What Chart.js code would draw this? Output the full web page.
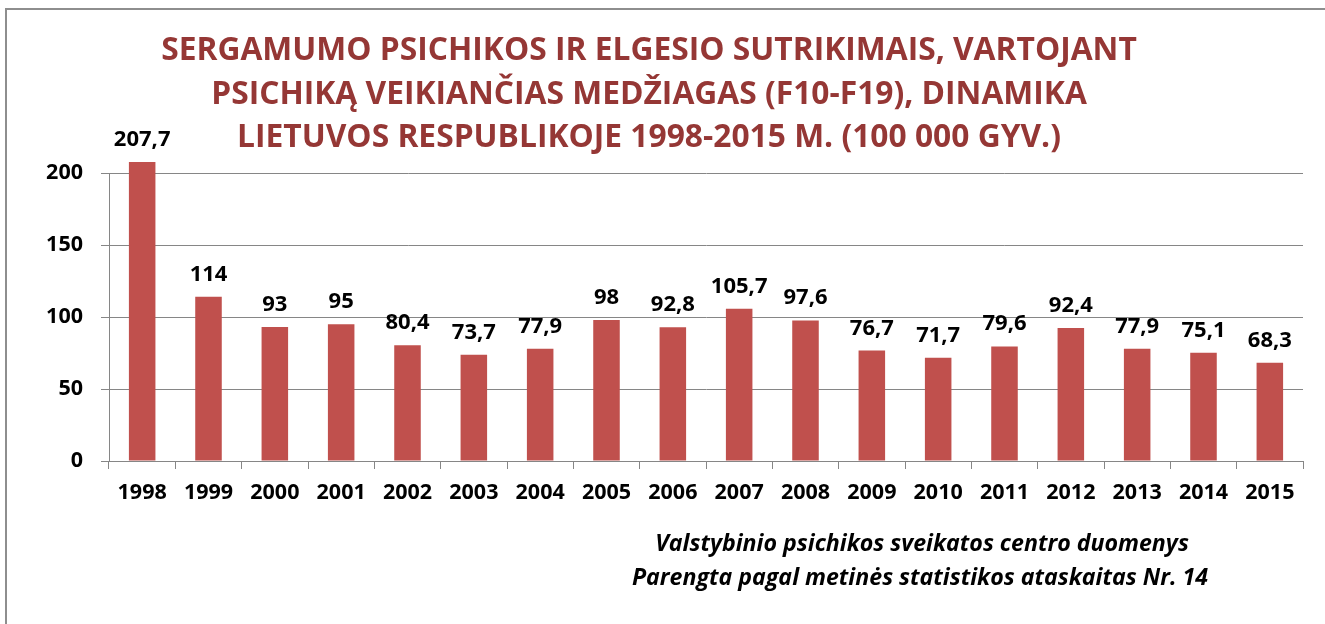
<!DOCTYPE html>
<html>
<head>
<meta charset="utf-8">
<script src="https://cdn.jsdelivr.net/npm/chart.js@4/dist/chart.umd.min.js"></script>
<style>
  html, body { margin: 0; padding: 0; background: #fff; }
  #wrap { width: 1325px; height: 624px; }
</style>
</head>
<body>
<div id="wrap"><canvas id="chart" width="1325" height="624"></canvas></div>
<script>
// data
const years = ['1998','1999','2000','2001','2002','2003','2004','2005','2006','2007','2008','2009','2010','2011','2012','2013','2014','2015'];
const rates = [207.7, 114, 93, 95, 80.4, 73.7, 77.9, 98, 92.8, 105.7, 97.6, 76.7, 71.7, 79.6, 92.4, 77.9, 75.1, 68.3];
const yTicks = [0, 50, 100, 150, 200];

const titleLines = [
    'SERGAMUMO PSICHIKOS IR ELGESIO SUTRIKIMAIS, VARTOJANT',
    'PSICHIKĄ VEIKIANČIAS MEDŽIAGAS (F10-F19), DINAMIKA',
    'LIETUVOS RESPUBLIKOJE 1998-2015 M. (100 000 GYV.)'
];
const sourceLines = [
    'Valstybinio psichikos sveikatos centro duomenys',
    'Parengta pagal metinės statistikos ataskaitas Nr. 14'
];

const FONT = '"Open Sans", "Noto Sans", sans-serif';
const gridGrey = '#868686';

// pick a font size so that a line takes the given width
function fitSize(ctx, text, width, style) {
    ctx.font = style + ' 40px ' + FONT;
    return 40 * width / ctx.measureText(text).width;
}

const decorations = {
    id: 'decorations',
    beforeDraw(c) {
        const ctx = c.ctx;
        ctx.save();
        ctx.fillStyle = '#fff';
        ctx.fillRect(0, 0, c.width, c.height);
        ctx.strokeStyle = '#8e8e8e';
        ctx.lineWidth = 2;
        ctx.beginPath();
        ctx.moveTo(6, 700);
        ctx.lineTo(6, 9);
        ctx.lineTo(1400, 9);
        ctx.stroke();
        ctx.restore();
    },
    afterDraw(c) {
        const ctx = c.ctx;
        ctx.save();
        // title
        const ts = fitSize(ctx, titleLines[0], 976, 'bold');
        ctx.font = 'bold ' + ts + 'px ' + FONT;
        ctx.fillStyle = '#953735';
        ctx.textAlign = 'center';
        ctx.textBaseline = 'middle';
        [51, 95, 138].forEach((y, i) => ctx.fillText(titleLines[i], 649, y));

        // value labels
        const meta = c.getDatasetMeta(0);
        ctx.fillStyle = '#000';
        ctx.font = 'bold 22px ' + FONT;
        ctx.textBaseline = 'alphabetic';
        meta.data.forEach((bar, i) => {
            const txt = String(rates[i]).replace('.', ',');
            ctx.fillText(txt, bar.x, bar.y - 16);
        });

        // source note
        const ss = fitSize(ctx, sourceLines[0], 534, 'italic bold');
        ctx.font = 'italic bold ' + ss + 'px ' + FONT;
        ctx.textBaseline = 'middle';
        ctx.fillText(sourceLines[0], 922, 544);
        ctx.fillText(sourceLines[1], 920, 578);
        ctx.restore();
    }
};

new Chart(document.querySelector('#chart').getContext('2d'), {
    type: 'bar',
    data: {
        labels: years,
        datasets: [{
            data: rates,
            backgroundColor: '#C0504D',
            borderWidth: 0,
            categoryPercentage: 1,
            barPercentage: 0.4,
            clip: false
        }]
    },
    options: {
        responsive: false,
        animation: false,
        layout: { padding: { top: 173, left: 0, right: 22, bottom: 123 } },
        plugins: {
            legend: { display: false },
            tooltip: { enabled: false },
            title: { display: false }
        },
        scales: {
            x: {
                afterFit(scale) { scale.height = 40; },
                grid: { drawOnChartArea: false, drawTicks: true, tickLength: 8, color: gridGrey, offset: true },
                border: { color: gridGrey, width: 1 },
                ticks: { color: '#000', font: { family: FONT, size: 21.5, weight: 'bold' }, padding: 11, maxRotation: 0, autoSkip: false }
            },
            y: {
                min: 0,
                max: 200,
                afterFit(scale) { scale.width = 109; },
                afterBuildTicks(scale) { scale.ticks = yTicks.map(v => ({ value: v })); },
                grid: { color: gridGrey, tickLength: 8, drawTicks: true },
                border: { color: gridGrey, width: 1 },
                ticks: { color: '#000', font: { family: FONT, size: 21.5, weight: 'bold' }, padding: 18 }
            }
        }
    },
    plugins: [decorations]
});
</script>
</body>
</html>
